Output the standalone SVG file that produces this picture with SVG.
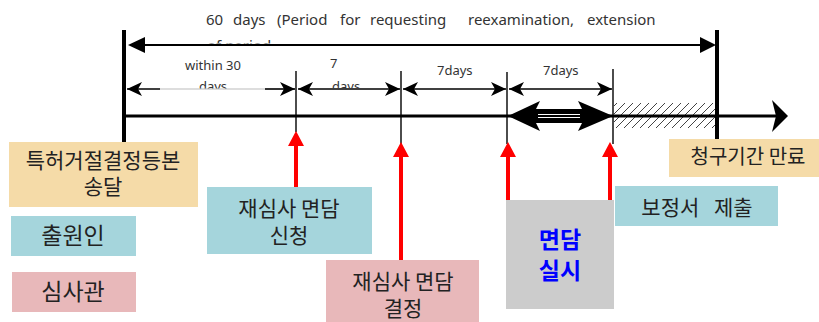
<svg xmlns="http://www.w3.org/2000/svg" width="819" height="322" viewBox="0 0 819 322">
<style>
.lat{font-family:"Noto Sans","Open Sans","Noto Sans CJK KR",sans-serif;fill:#333}
.kr{font-family:"Noto Sans CJK KR","Noto Sans",sans-serif;fill:#222;text-anchor:middle}
.tan{fill:#F5DBA8}
.teal{fill:#A5D5DC}
.pink{fill:#E8B8BA}
.dim{stroke:#000;stroke-width:1.6;fill:none}
.red{stroke:#FF0000;stroke-width:4;fill:none;marker-end:url(#redhead)}
.tick{stroke:#000;stroke-width:1.4}
</style>
<defs>
<marker id="dimhead" markerUnits="userSpaceOnUse" viewBox="0 0 15 14" refX="15" refY="7" markerWidth="15" markerHeight="14" orient="auto-start-reverse">
<path d="M0,0 L15,7 L0,14 L4,7 z" fill="#000"/>
</marker>
<marker id="redhead" markerUnits="userSpaceOnUse" viewBox="0 0 15 16" refX="2" refY="8" markerWidth="15" markerHeight="16" orient="auto">
<path d="M0,0 L15,8 L0,16 z" fill="#FF0000"/>
</marker>
<pattern id="hatch" patternUnits="userSpaceOnUse" width="8" height="8">
<path d="M-1,9 L9,-1" stroke="#444" stroke-width="1"/>
</pattern>
<clipPath id="clipTop"><rect x="0" y="0" width="819" height="43.5"/></clipPath>
<clipPath id="clipDim"><rect x="0" y="0" width="819" height="88.5"/></clipPath>
</defs>

<!-- top label -->
<g id="period-label">
<text class="lat" font-size="15" y="25"><tspan x="206">60</tspan><tspan x="233">days</tspan><tspan x="277">(Period</tspan><tspan x="340">for</tspan><tspan x="370">requesting</tspan><tspan x="468">reexamination,</tspan><tspan x="587">extension</tspan></text>
<text class="lat" font-size="15" x="207" y="50.5" clip-path="url(#clipTop)" fill="#555">of period</text>
</g>

<!-- timeline -->
<g id="timeline">
<rect x="614" y="103" width="102" height="25" fill="url(#hatch)"/>
<line x1="122" y1="116" x2="776" y2="116" stroke="#000" stroke-width="3"/>
<path d="M788,116 L772,100 L776,116 L772,132 z" fill="#000"/>
<rect x="122" y="30" width="4" height="112" fill="#000"/>
<rect x="715" y="30" width="4" height="109" fill="#000"/>
<line class="tick" x1="296" y1="71" x2="296" y2="132"/>
<line class="tick" x1="401" y1="71" x2="401" y2="144"/>
<line class="tick" x1="507" y1="72" x2="507" y2="144"/>
<line class="tick" x1="613" y1="69" x2="613" y2="144"/>
</g>

<g id="connectors">
<!-- 60 days arrow -->
<line x1="140" y1="45" x2="704" y2="45" stroke="#000" stroke-width="2"/>
<path d="M128,45 L145,37 L145,53 z" fill="#000"/>
<path d="M716,45 L700,37 L700,53 z" fill="#000"/>
<!-- dimension arrows -->
<path class="dim" d="M127,89 L160,89" marker-start="url(#dimhead)"/>
<line x1="160" y1="89" x2="265" y2="89" stroke="#bbb" stroke-width="1"/>
<path class="dim" d="M265,89 L295,89" marker-end="url(#dimhead)"/>
<path class="dim" d="M298,89 L400,89" marker-start="url(#dimhead)" marker-end="url(#dimhead)"/>
<path class="dim" d="M403,89 L506,89" marker-start="url(#dimhead)" marker-end="url(#dimhead)"/>
<path class="dim" d="M509,89 L612,89" marker-start="url(#dimhead)" marker-end="url(#dimhead)"/>
<!-- interview double arrow -->
<path d="M508,116 L540,101 L536,109 L582,109 L578,101 L613,116 L578,131 L582,123 L536,123 L540,131 z" fill="#000"/>
<line x1="538" y1="114.5" x2="580" y2="114.5" stroke="#fff" stroke-width="1"/>
<line x1="538" y1="117.5" x2="580" y2="117.5" stroke="#fff" stroke-width="1"/>
<!-- red arrows -->
<line class="red" x1="296" y1="188" x2="296" y2="144"/>
<line class="red" x1="401" y1="261" x2="401" y2="155"/>
<line class="red" x1="508" y1="201" x2="508" y2="155"/>
<line class="red" x1="610" y1="201" x2="610" y2="155"/>
</g>

<g id="dim-labels">
<text class="lat" font-size="13" x="213" y="70" text-anchor="middle">within  30</text>
<text class="lat" font-size="13" x="213" y="91" text-anchor="middle" clip-path="url(#clipDim)">days</text>
<text class="lat" font-size="13" x="330" y="68">7</text>
<text class="lat" font-size="13" x="332" y="91" clip-path="url(#clipDim)">days</text>
<text class="lat" font-size="13" x="437" y="75">7days</text>
<text class="lat" font-size="13" x="543" y="75">7days</text>
</g>

<g id="node-delivery">
<rect class="tan" x="9" y="142" width="189" height="65"/>
<text class="kr" font-size="21"><tspan x="103" y="168">특허거절결정등본</tspan><tspan x="103" y="194">송달</tspan></text>
</g>
<g id="node-applicant">
<rect class="teal" x="11" y="216" width="125" height="40"/>
<text class="kr" font-size="23" x="73" y="244">출원인</text>
</g>
<g id="node-examiner">
<rect class="pink" x="12" y="272" width="124" height="40"/>
<text class="kr" font-size="23" x="73" y="300">심사관</text>
</g>
<g id="node-request">
<rect class="teal" x="207" y="187" width="165" height="67"/>
<text class="kr" font-size="21"><tspan x="289" y="216">재심사 면담</tspan><tspan x="289" y="243">신청</tspan></text>
</g>
<g id="node-decision">
<rect class="pink" x="326" y="260" width="153" height="62"/>
<text class="kr" font-size="21"><tspan x="403" y="289">재심사 면담</tspan><tspan x="403" y="316">결정</tspan></text>
</g>
<g id="node-interview">
<rect x="506" y="200" width="108" height="109" fill="#CCCCCC"/>
<text class="kr" font-size="23" font-weight="bold" style="fill:#0000FF"><tspan x="560" y="248">면담</tspan><tspan x="560" y="279">실시</tspan></text>
</g>
<g id="node-amend">
<rect class="teal" x="615" y="186" width="163" height="40"/>
<text class="kr" font-size="21" x="697" y="215" word-spacing="10">보정서 제출</text>
</g>
<g id="node-expiry">
<rect class="tan" x="669" y="139" width="150" height="38"/>
<text class="kr" font-size="20" x="748" y="164">청구기간 만료</text>
</g>
</svg>
